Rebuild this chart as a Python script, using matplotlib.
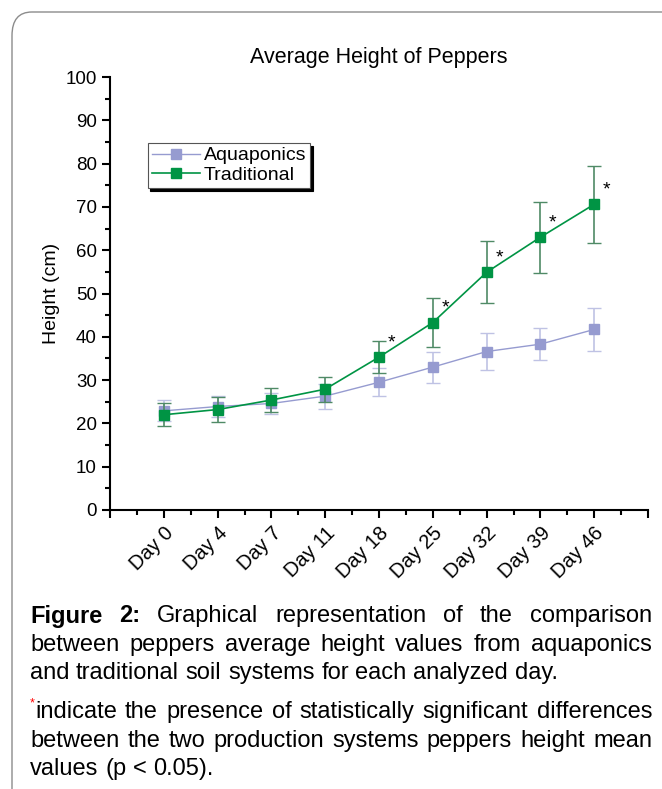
import numpy as np
import matplotlib.pyplot as plt
import matplotlib.transforms as mtrans
from matplotlib.patches import FancyBboxPatch
from matplotlib.lines import Line2D

plt.rcParams['font.family'] = ['Liberation Sans', 'DejaVu Sans']

days = ["Day 0", "Day 4", "Day 7", "Day 11", "Day 18", "Day 25", "Day 32", "Day 39", "Day 46"]
aqua_mean = [22.9, 23.9, 24.6, 26.3, 29.5, 33.0, 36.6, 38.3, 41.7]
aqua_err = [2.4, 2.4, 2.5, 2.9, 3.2, 3.6, 4.2, 3.7, 5.0]
trad_mean = [22.0, 23.2, 25.4, 27.9, 35.3, 43.3, 54.9, 63.0, 70.6]
trad_err = [2.7, 2.8, 2.7, 2.9, 3.7, 5.6, 7.2, 8.2, 8.9]
signif = [False, False, False, False, True, True, True, True, True]

aqua_color = "#969bd0"
trad_color = "#009444"

fig = plt.figure(figsize=(6.62, 7.89), dpi=100)

# card border (top + left, rounded corner)
card = FancyBboxPatch((12 / 662, -0.2), 1.2, (789 - 12) / 789 + 0.2,
                      boxstyle="round,pad=0,rounding_size=0.03",
                      transform=fig.transFigure, fill=False,
                      edgecolor="#8c8c8c", linewidth=1.0)
fig.patches.append(card)

ax = fig.add_axes([110 / 662, 279 / 789, 538 / 662, 433 / 789])
x = np.arange(len(days))

ax.errorbar(x, aqua_mean, yerr=aqua_err, color=aqua_color, marker="s",
            markersize=7, linewidth=1.0, elinewidth=1.2, capsize=5,
            ecolor="#bfc2e4", zorder=2)
ax.errorbar(x, trad_mean, yerr=trad_err, color=trad_color, marker="s",
            markersize=7, linewidth=1.2, elinewidth=1.2, capsize=5,
            ecolor="#4f8a66", zorder=3)

for xi, yi, s in zip(x, trad_mean, signif):
    if s:
        ax.annotate("*", (xi, yi), xytext=(9, 4), textcoords="offset points",
                    fontsize=14, ha="center", va="bottom")

ax.set_xlim(-1, 9)
ax.set_ylim(0, 100)
ax.set_xticks(np.arange(-1, 10))
ax.set_xticklabels([""] + days + [""], rotation=45, ha="right",
                   rotation_mode="anchor", fontsize=14.5)
offset = mtrans.ScaledTranslation(17 / 100, -2 / 100, fig.dpi_scale_trans)
for lbl in ax.get_xticklabels():
    lbl.set_transform(lbl.get_transform() + offset)
ax.set_xticks(np.arange(-0.5, 9, 1), minor=True)
ax.set_yticks(np.arange(0, 101, 10))
ax.set_yticks(np.arange(5, 100, 10), minor=True)
ax.tick_params(axis="y", labelsize=13.5)
ax.tick_params(which="major", length=6, width=1.5)
ax.tick_params(which="minor", length=3.5, width=1.5)
for sp in ["top", "right"]:
    ax.spines[sp].set_visible(False)
for sp in ["left", "bottom"]:
    ax.spines[sp].set_linewidth(1.5)

ax.set_ylabel("Height (cm)", fontsize=14, labelpad=4)
ax.set_title("Average Height of Peppers", fontsize=15.5, pad=10)

handles = [Line2D([], [], color=aqua_color, marker="s", markersize=7, linewidth=1.0),
           Line2D([], [], color=trad_color, marker="s", markersize=7, linewidth=1.2)]
leg = ax.legend(handles, ["Aquaponics", "Traditional"], loc="upper left",
                bbox_to_anchor=(0.07, 0.848), fontsize=14,
                frameon=True, fancybox=False, shadow={"color": "black", "alpha": 1},
                handlelength=2.5, borderpad=0.2, labelspacing=0.1,
                handletextpad=0.2, borderaxespad=0)
leg.get_frame().set_edgecolor("#555555")
leg.get_frame().set_linewidth(0.8)

# caption with justified lines
renderer = fig.canvas.get_renderer()
left_px, right_px = 30, 652
fs = 17
cap_lines = [
    ([("Figure", True), ("2:", True), ("Graphical", False), ("representation", False), ("of", False),
      ("the", False), ("comparison", False)], 616, True),
    ([("between", False), ("peppers", False), ("average", False), ("height", False), ("values", False),
      ("from", False), ("aquaponics", False)], 645, True),
    ([("and", False), ("traditional", False), ("soil", False), ("systems", False), ("for", False),
      ("each", False), ("analyzed", False), ("day.", False)], 673, False),
    ([("indicate", False), ("the", False), ("presence", False), ("of", False), ("statistically", False),
      ("significant", False), ("differences", False)], 712, True),
    ([("between", False), ("the", False), ("two", False), ("production", False), ("systems", False),
      ("peppers", False), ("height", False), ("mean", False)], 741, True),
    ([("values", False), ("(p", False), ("<", False), ("0.05).", False)], 769, False),
]

t1 = fig.text(0, 0, "a b", fontsize=fs)
t2 = fig.text(0, 0, "ab", fontsize=fs)
space = t1.get_window_extent(renderer).width - t2.get_window_extent(renderer).width
t1.remove()
t2.remove()

for words, ypx, justify in cap_lines:
    yf = 1 - ypx / 789
    texts = []
    for w, bold in words:
        t = fig.text(0, yf, w, fontsize=fs, fontweight="bold" if bold else "normal",
                     va="center", ha="left")
        texts.append(t)
    widths = [t.get_window_extent(renderer).width for t in texts]
    start = left_px + (5 if ypx == 712 else 0)
    if justify and len(words) > 1:
        gap = max((right_px - start - sum(widths)) / (len(words) - 1), space)
    else:
        gap = space
    pos = start
    for t, w in zip(texts, widths):
        t.set_x(pos / 662)
        pos += w + gap

fig.text(30 / 662, 1 - 703 / 789, "*", color="red", fontsize=9, ha="left", va="center")

fig.savefig("out.png", dpi=100)
